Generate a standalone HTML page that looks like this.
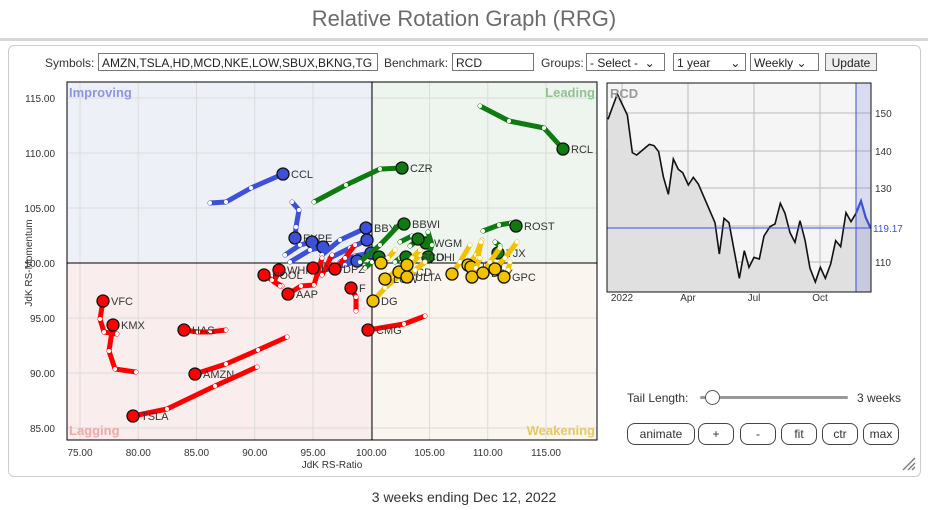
<!DOCTYPE html>
<html><head><meta charset="utf-8">
<style>
body{margin:0;width:928px;height:510px;background:#fff;font-family:"Liberation Sans",sans-serif;position:relative;overflow:hidden}
.t{position:absolute;left:0;width:928px;text-align:center;top:6px;font-size:22px;color:#6b6b6b}
.hr{position:absolute;left:0;top:38px;width:928px;height:3px;background:#d4d6d8}
.panel{position:absolute;left:8px;top:45px;width:911px;height:430px;border:1px solid #ccc;border-radius:6px;background:#fff}
.ctl{position:absolute;top:53px;font-size:12px;color:#333}
.inp{position:absolute;top:53px;height:18px;border:1px solid #777;font-size:12px;line-height:18px;padding-left:3px;box-sizing:border-box;background:#fff;color:#222;overflow:hidden;white-space:nowrap}
.btn{position:absolute;top:423px;height:20px;border:1px solid #444;border-radius:8px;font-size:12px;text-align:center;line-height:20px;color:#333;background:#fff}
.foot{position:absolute;top:489px;left:0;width:928px;text-align:center;font-size:14px;color:#333}
</style></head><body>
<div class="t">Relative Rotation Graph (RRG)</div>
<div class="hr"></div>
<div class="panel"></div>
<div class="ctl" style="left:45px;top:56px">Symbols:</div>
<div class="inp" style="left:98px;width:280px;top:53px">AMZN,TSLA,HD,MCD,NKE,LOW,SBUX,BKNG,TG</div>
<div class="ctl" style="left:384px;top:56px">Benchmark:</div>
<div class="inp" style="left:452px;width:82px">RCD</div>
<div class="ctl" style="left:541px;top:56px">Groups:</div>
<div class="inp" style="left:586px;width:79px">- Select - &nbsp;⌄</div>
<div class="inp" style="left:673px;width:73px">1 year &nbsp; &nbsp; &nbsp;⌄</div>
<div class="inp" style="left:750px;width:69px">Weekly ⌄</div>
<div class="inp" style="left:825px;width:52px;background:#eee;text-align:center;padding:0">Update</div>
<svg width="928" height="510" style="position:absolute;left:0;top:0" id="s" font-family="Liberation Sans, sans-serif"></svg>
<div class="ctl" style="left:627px;top:391px">Tail Length:</div>
<div style="position:absolute;left:700px;top:396px;width:148px;height:3px;background:#999;border-radius:2px"></div>
<div style="position:absolute;left:705px;top:390px;width:13px;height:13px;border:1px solid #555;border-radius:50%;background:#fff"></div>
<div class="ctl" style="left:857px;top:391px">3 weeks</div>
<div class="btn" style="left:627px;width:66px">animate</div>
<div class="btn" style="left:698px;width:34px">+</div>
<div class="btn" style="left:740px;width:34px">-</div>
<div class="btn" style="left:781px;width:34px">fit</div>
<div class="btn" style="left:822px;width:34px">ctr</div>
<div class="btn" style="left:863px;width:34px">max</div>
<div class="foot">3 weeks ending Dec 12, 2022</div>
<script>
const s=document.getElementById('s');let h='';
const X0=67,X1=597,Y0=82,Y1=440,CX=372,CY=263;
h+=`<rect x="${X0}" y="${Y0}" width="${CX-X0}" height="${CY-Y0}" fill="#eef0f8"/>`;
h+=`<rect x="${CX}" y="${Y0}" width="${X1-CX}" height="${CY-Y0}" fill="#edf5ee"/>`;
h+=`<rect x="${X0}" y="${CY}" width="${CX-X0}" height="${Y1-CY}" fill="#f9eded"/>`;
h+=`<rect x="${CX}" y="${CY}" width="${X1-CX}" height="${Y1-CY}" fill="#faf6ef"/>`;
for(let v=75;v<=115;v+=5){let x=80+(v-75)*11.65;h+=`<line x1="${x}" y1="${Y0}" x2="${x}" y2="${Y1}" stroke="#dcdcdc"/>`;h+=`<text x="${x}" y="456" font-size="10" fill="#333" text-anchor="middle">${v.toFixed(2)}</text>`}
for(let v=85;v<=115;v+=5){let y=98+(115-v)*11;h+=`<line x1="${X0}" y1="${y}" x2="${X1}" y2="${y}" stroke="#dcdcdc"/>`;h+=`<text x="55" y="${y+4}" font-size="10" fill="#333" text-anchor="end">${v.toFixed(2)}</text>`}
h+=`<line x1="${CX}" y1="${Y0}" x2="${CX}" y2="${Y1}" stroke="#000"/><line x1="${X0}" y1="${CY}" x2="${X1}" y2="${CY}" stroke="#000"/>`;
h+=`<rect x="${X0}" y="${Y0}" width="${X1-X0}" height="${Y1-Y0}" fill="none" stroke="#000"/>`;
h+=`<text x="69" y="97" font-size="13" font-weight="bold" fill="#8d95e0">Improving</text><text x="595" y="97" font-size="13" font-weight="bold" fill="#8fc48f" text-anchor="end">Leading</text><text x="69" y="435" font-size="13" font-weight="bold" fill="#f0a8a8">Lagging</text><text x="595" y="435" font-size="13" font-weight="bold" fill="#e8c860" text-anchor="end">Weakening</text>`;
h+=`<text x="332" y="468" font-size="10" fill="#333" text-anchor="middle">JdK RS-Ratio</text><text transform="translate(32,263) rotate(-90)" font-size="10" fill="#333" text-anchor="middle">JdK RS-Momentum</text>`;
const R='#f00',B='#3c50d8',G='#0f7a0f',Y='#f2c200';
const S=[
[B,'CCL',[[210,203],[226,202],[251,188],[283,174]]],
[B,'EXPE',[[292,202],[299,210],[296,227],[295,238]]],
[B,'',[[285,255],[300,245],[312,242]]],
[B,'',[[290,262],[310,250],[323,247]]],
[B,'BBY',[[322,255],[340,240],[366,228]]],
[B,'',[[330,258],[350,248],[367,240]]],
[B,'',[[340,262],[355,256],[371,253]]],
[B,'',[[325,270],[345,265],[357,261]]],
[G,'CZR',[[314,202],[346,185],[380,169],[402,168]]],
[G,'RCL',[[480,106],[509,121],[544,128],[563,149]]],
[G,'BBWI',[[360,262],[380,245],[400,224],[404,224]]],
[G,'ROST',[[483,231],[499,225],[511,223],[516,226]]],
[G,'TJX',[[495,242],[500,246],[498,253]]],
[G,'WGM',[[410,246],[420,238],[426,243]]],
[G,'',[[400,242],[412,236],[418,239]]],
[G,'DHI',[[428,232],[432,245],[428,257]]],
[G,'TSCO',[[395,262],[400,258],[406,257]]],
[G,'',[[365,268],[372,262],[379,257]]],
[R,'VFC',[[117,334],[104,332],[100,319],[103,301]]],
[R,'KMX',[[136,372],[115,369],[109,351],[113,325]]],
[R,'HAS',[[226,330],[210,332],[198,332],[184,330]]],
[R,'AMZN',[[287,337],[258,350],[226,364],[195,374]]],
[R,'TSLA',[[257,367],[215,386],[167,409],[133,416]]],
[R,'WHR',[[282,286],[274,282],[279,270]]],
[R,'POOL',[[280,286],[272,280],[264,275]]],
[R,'AAP',[[322,258],[314,285],[301,286],[288,294]]],
[R,'DRI',[[332,255],[322,275],[313,268]]],
[R,'DPZ',[[355,245],[345,258],[335,269]]],
[R,'F',[[356,311],[356,297],[351,288]]],
[R,'CMG',[[425,316],[404,324],[368,330]]],
[Y,'DG',[[400,275],[385,288],[373,301]]],
[Y,'LOW',[[405,262],[395,272],[385,279]]],
[Y,'',[[395,250],[388,258],[381,263]]],
[Y,'MCD',[[420,255],[410,265],[399,272]]],
[Y,'ULTA',[[425,262],[415,270],[407,277]]],
[Y,'',[[420,250],[412,258],[407,265]]],
[Y,'',[[470,245],[460,262],[452,274]]],
[Y,'ORLY',[[482,240],[476,255],[468,265]]],
[Y,'',[[481,242],[478,258],[471,267]]],
[Y,'',[[480,258],[476,268],[472,277]]],
[Y,'BBY',[[500,248],[490,262],[483,273]]],
[Y,'',[[517,242],[505,258],[495,269]]],
[Y,'GPC',[[510,262],[508,270],[504,277]]]];
for(const [c,l,p] of S){
 h+=`<polyline points="${p.map(q=>q.join(',')).join(' ')}" fill="none" stroke="${c}" stroke-width="5" stroke-linecap="round" stroke-linejoin="round"/>`;
 for(let i=0;i<p.length-1;i++)h+=`<circle cx="${p[i][0]}" cy="${p[i][1]}" r="2" fill="#fff"/>`;
 const hd=p[p.length-1];
 h+=`<circle cx="${hd[0]}" cy="${hd[1]}" r="6" fill="${c}" stroke="#111" stroke-width="1.3"/>`;
 if(l)h+=`<text x="${hd[0]+8}" y="${hd[1]+4}" font-size="11" fill="#333">${l}</text>`;
}
const mx0=607,mx1=871,my0=83,my1=292;
h+=`<rect x="${mx0}" y="${my0}" width="${mx1-mx0}" height="${my1-my0}" fill="#f5f5f5"/>`;
[622,688,754,820].forEach(x=>h+=`<line x1="${x}" y1="${my0}" x2="${x}" y2="${my1}" stroke="#bbb"/>`);
[[150,113],[140,151],[130,188],[120,226],[110,262]].forEach(([v,y])=>{h+=`<line x1="${mx0}" y1="${y}" x2="${mx1}" y2="${y}" stroke="#bbb"/>`;if(v!=120)h+=`<text x="875" y="${y+4}" font-size="10" fill="#333">${v}</text>`});
const z=[[24,118],[52,42],[82,105],[97,218],[110,225],[148,193],[162,197],[176,215],[190,290],[205,343],[220,237],[235,268],[248,278],[265,315],[280,292],[295,312],[345,428],[358,522],[372,415],[387,428],[418,595],[433,512],[447,562],[462,532],[478,537],[492,468],[510,440],[525,432],[541,370],[555,400],[570,458],[585,487],[600,422],[615,480],[630,565],[646,606],[661,562],[676,595],[692,552],[707,482],[722,500],[738,398],[753,425],[768,400],[783,363],[797,412],[812,445]].map(([a,b])=>[600+a/3,80+b/3]);
const zb=z.filter(q=>q[0]<=856.5), zl=z.filter(q=>q[0]>=855);
h+=`<polygon points="${mx0},${my1} ${z.map(q=>q.join(',')).join(' ')} ${mx1},${my1}" fill="#e0e0e0"/>`;
h+=`<rect x="856" y="${my0}" width="${mx1-856}" height="${my1-my0}" fill="#3c50d8" fill-opacity="0.15"/>`;
h+=`<polyline points="${zb.map(q=>q.join(',')).join(' ')}" fill="none" stroke="#111" stroke-width="1.6"/>`;
h+=`<polyline points="${zl.map(q=>q.join(',')).join(' ')}" fill="none" stroke="#3c50d8" stroke-width="2.2"/>`;
h+=`<line x1="856" y1="${my0}" x2="856" y2="${my1}" stroke="#3c50d8"/><line x1="${mx0}" y1="228" x2="${mx1}" y2="228" stroke="#3c50d8"/>`;
h+=`<rect x="${mx0}" y="${my0}" width="${mx1-mx0}" height="${my1-my0}" fill="none" stroke="#111"/>`;
h+=`<text x="873" y="232" font-size="10" fill="#3c50d8">119.17</text>`;
h+=`<text x="610" y="98" font-size="13" font-weight="bold" fill="#999">RCD</text>`;
[[622,'2022'],[688,'Apr'],[754,'Jul'],[820,'Oct']].forEach(([x,t])=>h+=`<text x="${x}" y="301" font-size="10" fill="#333" text-anchor="middle">${t}</text>`);
h+=`<path d="M903 470 L915 458 M908 470 L915 463 M912 470 L915 467" stroke="#777" stroke-width="1.3"/>`;
s.innerHTML=h;
</script>
</body></html>
